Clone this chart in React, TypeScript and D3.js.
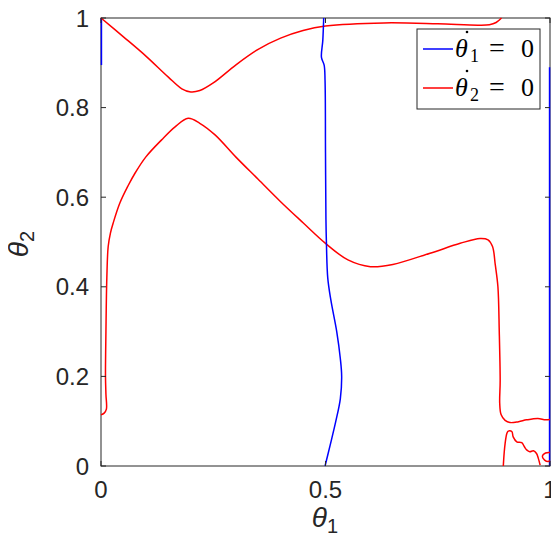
import React, { useEffect, useRef } from 'react';
import * as d3 from 'd3';

// nullcline traces, [theta1, theta2]
const blueMain: [number, number][] = [
  [0.496, 1.0], [0.494, 0.95], [0.491, 0.912], [0.497, 0.895], [0.499, 0.86],
  [0.5, 0.7], [0.501, 0.55], [0.502, 0.5], [0.505, 0.42], [0.512, 0.37],
  [0.525, 0.3], [0.533, 0.24], [0.536, 0.2], [0.533, 0.15], [0.523, 0.1],
  [0.51, 0.045], [0.499, 0.0],
];
const blueLeft: [number, number][] = [[0.001, 1], [0.001, 0.895]];
const blueRight: [number, number][] = [[0.999, 0.89], [0.999, 0]];

const redTop: [number, number][] = [
  [0, 1], [0.05, 0.958], [0.1, 0.915], [0.15, 0.868], [0.18, 0.842], [0.2, 0.835],
  [0.22, 0.838], [0.25, 0.855], [0.3, 0.895], [0.35, 0.93], [0.4, 0.955],
  [0.45, 0.972], [0.5, 0.982], [0.63, 0.989], [0.75, 0.987], [0.84, 0.984],
  [0.865, 0.985], [0.88, 0.99], [0.892, 1.0],
];
const redMid: [number, number][] = [
  [0, 0.114], [0.007, 0.118], [0.012, 0.127], [0.011, 0.16], [0.01, 0.2],
  [0.011, 0.3], [0.013, 0.42], [0.016, 0.49], [0.021, 0.52], [0.027, 0.542],
  [0.042, 0.587], [0.06, 0.625], [0.076, 0.654], [0.1, 0.69], [0.135, 0.728],
  [0.165, 0.757], [0.194, 0.776], [0.22, 0.765], [0.254, 0.739], [0.3, 0.69],
  [0.35, 0.64], [0.4, 0.59], [0.45, 0.543], [0.5, 0.497], [0.55, 0.46],
  [0.6, 0.445], [0.65, 0.45], [0.733, 0.475], [0.8, 0.497], [0.844, 0.508],
  [0.862, 0.505], [0.872, 0.49], [0.878, 0.45], [0.884, 0.4], [0.887, 0.3],
  [0.889, 0.19], [0.888, 0.14], [0.891, 0.115], [0.9, 0.102], [0.911, 0.097],
  [0.93, 0.099], [0.948, 0.103], [0.973, 0.106], [0.99, 0.103], [1, 0.104],
];
const redSquiggle: [number, number][] = [
  [0.896, 0], [0.898, 0.03], [0.9, 0.05], [0.904, 0.073], [0.907, 0.078],
  [0.915, 0.077], [0.918, 0.065], [0.926, 0.054], [0.937, 0.052], [0.943, 0.043],
  [0.948, 0.036], [0.955, 0.032], [0.963, 0.034], [0.97, 0.028], [0.974, 0.017],
  [0.978, 0.002],
];
const redLoop: [number, number][] = [
  [1.0, 0.03], [0.99, 0.029], [0.983, 0.022], [0.988, 0.013], [0.996, 0.01], [1.0, 0.012],
];

const xTicks = [0, 0.5, 1];
const yTicks = [0, 0.2, 0.4, 0.6, 0.8, 1];

const axisColor = '#262626';
const sans = '"Liberation Sans", Arial, Helvetica, sans-serif';
const serif = '"Liberation Serif", "Times New Roman", serif';

export default function App() {
  const ref = useRef<SVGSVGElement>(null);

  useEffect(() => {
    const left = 101, right = 550, top = 18, bottom = 466;
    const svg = d3.select(ref.current);
    svg.selectAll('*').remove();

    const x = d3.scaleLinear().domain([0, 1]).range([left, right]);
    const y = d3.scaleLinear().domain([0, 1]).range([bottom, top]);

    svg.append('defs').append('clipPath').attr('id', 'plotclip')
      .append('rect').attr('x', left - 1).attr('y', top - 1)
      .attr('width', right - left + 2).attr('height', bottom - top + 2);

    // box under the curves
    svg.append('rect')
      .attr('x', left).attr('y', top)
      .attr('width', right - left).attr('height', bottom - top)
      .attr('fill', 'none').attr('stroke', axisColor).attr('stroke-width', 1);

    const line = d3.line<[number, number]>()
      .x(d => x(d[0])).y(d => y(d[1]))
      .curve(d3.curveCatmullRom.alpha(0.5));

    const plot = svg.append('g').attr('clip-path', 'url(#plotclip)');
    const draw = (data: [number, number][], color: string) =>
      plot.append('path').datum(data)
        .attr('fill', 'none').attr('stroke', color)
        .attr('stroke-width', 1.5).attr('d', line);

    draw(blueLeft, '#0000ff');
    draw(blueRight, '#0000ff');
    draw(redTop, '#ff0000');
    draw(redMid, '#ff0000');
    draw(redSquiggle, '#ff0000');
    draw(redLoop, '#ff0000');
    draw(blueMain, '#0000ff');

    // inward ticks, both sides
    const tl = 5;
    xTicks.forEach(t => {
      svg.append('line').attr('x1', x(t)).attr('x2', x(t)).attr('y1', bottom).attr('y2', bottom - tl)
        .attr('stroke', axisColor);
      svg.append('line').attr('x1', x(t)).attr('x2', x(t)).attr('y1', top).attr('y2', top + tl)
        .attr('stroke', axisColor);
      svg.append('text').attr('x', x(t)).attr('y', 498)
        .attr('text-anchor', 'middle').attr('fill', axisColor)
        .style('font-family', sans).style('font-size', '24px')
        .text(d3.format('~g')(t));
    });
    yTicks.forEach(t => {
      svg.append('line').attr('x1', left).attr('x2', left + tl).attr('y1', y(t)).attr('y2', y(t))
        .attr('stroke', axisColor);
      svg.append('line').attr('x1', right).attr('x2', right - tl).attr('y1', y(t)).attr('y2', y(t))
        .attr('stroke', axisColor);
      svg.append('text').attr('x', 89).attr('y', y(t) + 8.5)
        .attr('text-anchor', 'end').attr('fill', axisColor)
        .style('font-family', sans).style('font-size', '24px')
        .text(d3.format('~g')(t));
    });

    // axis labels
    const xl = svg.append('text').attr('x', 325).attr('y', 527)
      .attr('text-anchor', 'middle').attr('fill', axisColor)
      .style('font-family', sans).style('font-size', '28px');
    xl.append('tspan').style('font-style', 'italic').text('θ');
    xl.append('tspan').attr('dy', 6).style('font-size', '20px').text('1');

    const yl = svg.append('text')
      .attr('transform', 'translate(28,244) rotate(-90)')
      .attr('text-anchor', 'middle').attr('fill', axisColor)
      .style('font-family', sans).style('font-size', '28px');
    yl.append('tspan').style('font-style', 'italic').text('θ');
    yl.append('tspan').attr('dy', 6).style('font-size', '20px').text('2');

    // legend
    const lg = svg.append('g');
    lg.append('rect').attr('x', 417).attr('y', 29).attr('width', 123).attr('height', 80)
      .attr('fill', 'white').attr('stroke', axisColor).attr('stroke-width', 1);
    const entries = [{ color: '#0000ff', sub: '1' }, { color: '#ff0000', sub: '2' }];
    entries.forEach((e, i) => {
      const cy = 49 + i * 39;
      lg.append('line').attr('x1', 423).attr('x2', 453).attr('y1', cy).attr('y2', cy)
        .attr('stroke', e.color).attr('stroke-width', 1.5);
      const base = cy + 8;
      lg.append('text').attr('x', 455).attr('y', base)
        .style('font-family', serif).style('font-style', 'italic').style('font-size', '26px')
        .text('θ');
      lg.append('circle').attr('cx', 467).attr('cy', cy - 17).attr('r', 1.3).attr('fill', 'black');
      lg.append('text').attr('x', 470).attr('y', base + 5)
        .style('font-family', serif).style('font-size', '18px')
        .text(e.sub);
      lg.append('text').attr('x', 489).attr('y', base)
        .style('font-family', serif).style('font-size', '28px')
        .text('=');
      lg.append('text').attr('x', 521).attr('y', base)
        .style('font-family', serif).style('font-size', '26px')
        .text('0');
    });
  }, []);

  return <svg ref={ref} width={559} height={551} style={{ display: 'block', margin: '-8px' }} />;
}
